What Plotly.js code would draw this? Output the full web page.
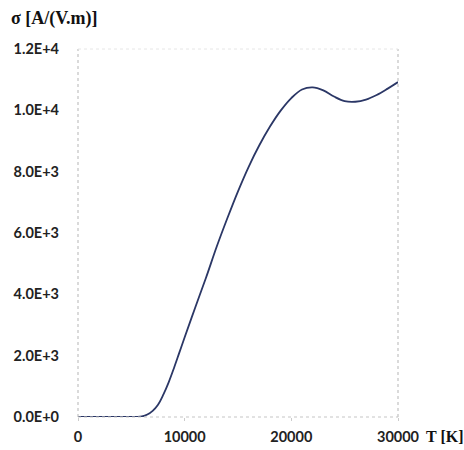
<!DOCTYPE html>
<html>
<head>
<meta charset="utf-8">
<script src="https://cdn.plot.ly/plotly-3.0.1.min.js"></script>
<style>html,body{margin:0;padding:0;background:#fff;}#chart{width:464px;height:450px;}</style>
</head>
<body>
<div id="chart"></div>
<script>
const temperatureK = [0, 1000, 2000, 3000, 4000, 5000, 5500, 6000, 6500, 7000, 7500, 8000, 8500, 9000, 9500, 10000, 11000, 12000, 13000, 14000, 15000, 16000, 17000, 18000, 19000, 20000, 21000, 22000, 23000, 24000, 25000, 26000, 27000, 28000, 29000, 30000];
const sigma = [0, 0, 0, 0, 0, 0, 3, 20, 80, 200, 400, 730, 1130, 1600, 2100, 2600, 3580, 4540, 5550, 6480, 7360, 8160, 8860, 9470, 9990, 10400, 10680, 10750, 10650, 10450, 10300, 10280, 10350, 10500, 10700, 10920];
const yTickVals = [0, 2000, 4000, 6000, 8000, 10000, 12000];
const yTickText = ["0.0E+0", "2.0E+3", "4.0E+3", "6.0E+3", "8.0E+3", "1.0E+4", "1.2E+4"];
const xTickVals = [0, 10000, 20000, 30000];
const xTickText = ["0", "10000", "20000", "30000"];

const trace = {
  x: temperatureK, y: sigma, type: 'scatter', mode: 'lines',
  line: {color: '#2b3766', width: 1.8, shape: 'spline', smoothing: 1.0},
  hoverinfo: 'skip'
};

const tickFont = {family: 'Lato, "DejaVu Sans", sans-serif', size: 14.5, color: '#222', weight: 'bold'};
const layout = {
  width: 464, height: 450,
  margin: {l: 78, r: 66, t: 49, b: 33},
  paper_bgcolor: '#fff', plot_bgcolor: '#fff',
  showlegend: false,
  xaxis: {
    range: [0, 30000], tickvals: xTickVals, ticktext: xTickText,
    showgrid: false, zeroline: false, showline: false,
    ticks: 'outside', ticklen: 3, tickcolor: '#ccc', tickfont: tickFont, ticklabelstandoff: 4
  },
  yaxis: {
    range: [0, 12000], tickvals: yTickVals, ticktext: yTickText,
    showgrid: false, zeroline: false, showline: false,
    ticks: '', ticklabelstandoff: 18, tickfont: tickFont
  },
  shapes: [
    {type: 'line', xref: 'paper', yref: 'paper', x0: 0, x1: 0, y0: 0, y1: 1, line: {color: '#b5b5b5', width: 1, dash: 'dot'}},
    {type: 'line', xref: 'paper', yref: 'paper', x0: 1, x1: 1, y0: 0, y1: 1, line: {color: '#b5b5b5', width: 1, dash: 'dot'}},
    {type: 'line', xref: 'paper', yref: 'paper', x0: 0, x1: 1, y0: 0, y1: 0, line: {color: '#c5c5c5', width: 1, dash: 'dot'}},
    {type: 'line', xref: 'paper', yref: 'paper', x0: 0, x1: 1, y0: 1, y1: 1, line: {color: '#e6e6e6', width: 1, dash: 'dot'}}
  ],
  annotations: [
    {text: 'σ [A/(V.m)]', xref: 'paper', yref: 'paper', x: -0.215, y: 1.084, xanchor: 'left', yanchor: 'middle', showarrow: false,
     font: {family: '"Liberation Serif", "DejaVu Serif", serif', size: 18, color: '#111', weight: 'bold'}},
    {text: 'T [K]', xref: 'paper', yref: 'paper', x: 1.082, y: -0.054, xanchor: 'left', yanchor: 'middle', showarrow: false,
     font: {family: '"Liberation Serif", "DejaVu Serif", serif', size: 16, color: '#111', weight: 'bold'}}
  ]
};

Plotly.newPlot('chart', [trace], layout, {staticPlot: true, displayModeBar: false});
</script>
</body>
</html>
